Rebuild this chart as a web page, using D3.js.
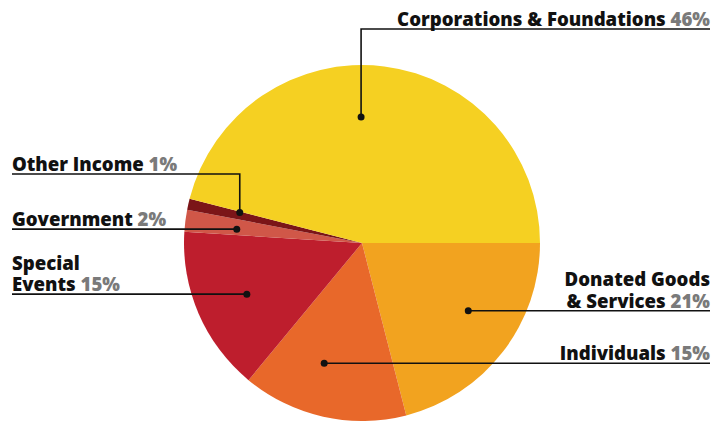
<!DOCTYPE html>
<html>
<head>
<meta charset="utf-8">
<script src="https://cdn.jsdelivr.net/npm/d3@7"></script>
<style>
  body { margin: 0; background: #fff; }
  text { font-family: "Open Sans", sans-serif; font-weight: 800; font-stretch: 90%; }
</style>
</head>
<body>
<svg id="pie"></svg>
<script>
const width = 728;
const height = 421;

// slices in drawing order, clockwise from 3 o'clock
const names = ["Donated Goods & Services", "Individuals", "Special Events", "Government", "Other Income", "Corporations & Foundations"];
const values = [21, 15, 15, 2, 1, 46];
const colors = ["#f2a31f", "#e8682a", "#be1e2d", "#d05748", "#7b1518", "#f5d022"];

// label text lines (last line gets the percentage)
const labelLines = [
  ["Donated Goods", "& Services"],
  ["Individuals"],
  ["Special", "Events"],
  ["Government"],
  ["Other Income"],
  ["Corporations & Foundations"]
];

// where the dot sits inside its slice (0 = start angle, 1 = end angle)
const dotAt = [0.43, 0.59, 0.49, 0.375, 0.9, 0.454];
// label side and the y of its underline (null = at dot height)
const side = ["right", "right", "left", "left", "left", "right"];
const lineY = [null, null, null, null, 174, 29];

const cx = 362, cy = 243, radius = 178, dotRadius = 126;
const leftX = 12, rightX = 710, lineGap = 21.5;

const svg = d3.select("#pie")
  .attr("width", width)
  .attr("height", height);

const pie = d3.pie()
  .sort(null)
  .value(d => d)
  .startAngle(Math.PI / 2)
  .endAngle(Math.PI / 2 + 2 * Math.PI);

const arcs = pie(values);

const arc = d3.arc()
  .innerRadius(0)
  .outerRadius(radius);

const g = svg.append("g")
  .attr("transform", `translate(${cx},${cy})`);

g.selectAll("path")
  .data(arcs)
  .join("path")
  .attr("d", arc)
  .attr("fill", (d, i) => colors[i]);

const dots = arcs.map((d, i) => {
  const a = d.startAngle + dotAt[i] * (d.endAngle - d.startAngle);
  return [cx + dotRadius * Math.sin(a), cy - dotRadius * Math.cos(a)];
});

const ann = svg.append("g");

arcs.forEach((d, i) => {
  const [dx, dy] = dots[i];
  const ly = lineY[i] == null ? dy : lineY[i];
  const left = side[i] === "left";

  const path = d3.path();
  path.moveTo(left ? leftX : rightX, ly);
  path.lineTo(dx, ly);
  path.lineTo(dx, dy);
  ann.append("path")
    .attr("d", path.toString())
    .attr("fill", "none")
    .attr("stroke", "#111")
    .attr("stroke-width", 1.6);

  ann.append("circle")
    .attr("cx", dx)
    .attr("cy", dy)
    .attr("r", 3.5)
    .attr("fill", "#111");

  const lines = labelLines[i];
  lines.forEach((ln, j) => {
    const y = ly - 3 - (lines.length - 1 - j) * lineGap;
    const t = ann.append("text")
      .attr("x", left ? leftX : rightX)
      .attr("y", y)
      .attr("font-size", 18.6)
      .attr("text-anchor", left ? "start" : "end");
    t.append("tspan")
      .attr("fill", "#111")
      .text(ln);
    if (j === lines.length - 1) {
      t.append("tspan")
        .attr("fill", "#7a7a7a")
        .text(" " + values[i] + "%");
    }
  });
});
</script>
</body>
</html>
